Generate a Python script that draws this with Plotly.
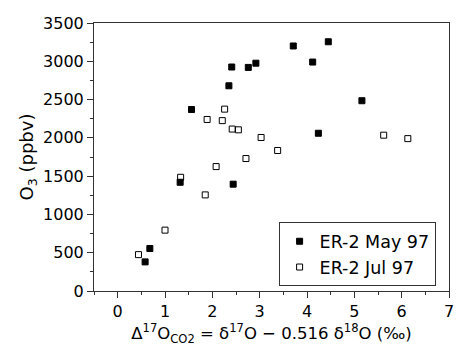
import plotly.graph_objects as go

may_x = [0.58, 0.68, 1.32, 1.56, 2.35, 2.41, 2.44, 2.76, 2.92, 3.71, 4.12, 4.24, 4.45, 5.16]
may_y = [380, 555, 1420, 2370, 2680, 2925, 1395, 2920, 2975, 3200, 2990, 2060, 3255, 2485]

jul_x = [0.44, 1.00, 1.33, 1.85, 1.89, 2.08, 2.21, 2.26, 2.42, 2.55, 2.71, 3.03, 3.38, 5.62, 6.13]
jul_y = [475, 795, 1485, 1255, 2240, 1625, 2225, 2375, 2115, 2105, 1730, 2005, 1835, 2035, 1990]

font = "DejaVu Sans, sans-serif"

fig = go.Figure()
fig.add_trace(go.Scatter(x=may_x, y=may_y, mode="markers", name="ER-2 May 97",
                         marker=dict(symbol="square", size=6, color="black",
                                     line=dict(color="black", width=1))))
fig.add_trace(go.Scatter(x=jul_x, y=jul_y, mode="markers", name="ER-2 Jul 97",
                         marker=dict(symbol="square-open", size=6, color="black",
                                     line=dict(color="black", width=1))))

axis_common = dict(showline=True, linecolor="#333", linewidth=1, mirror=True,
                   ticks="outside", ticklen=6, tickwidth=1, tickcolor="#333",
                   showgrid=False, zeroline=False, ticklabeloverflow="allow",
                   tickfont=dict(family=font, size=16, color="black"))

fig.update_xaxes(range=[-0.5, 7], tick0=0, dtick=1,
                 minor=dict(ticks="outside", ticklen=3, dtick=0.5, tick0=0, tickcolor="#333"),
                 title=dict(text="Δ<sup>17</sup>O<sub>CO2</sub> = δ<sup>17</sup>O − 0.516 δ<sup>18</sup>O (‰)",
                            font=dict(family=font, size=16.5, color="black"), standoff=5),
                 **axis_common)
fig.update_yaxes(range=[0, 3500], tick0=0, dtick=500,
                 minor=dict(ticks="outside", ticklen=3, dtick=250, tick0=0, tickcolor="#333"),
                 title=dict(text="O<sub>3</sub> (ppbv)",
                            font=dict(family=font, size=18, color="black"), standoff=4),
                 **axis_common)

fig.update_layout(
    width=456, height=352,
    margin=dict(l=94, r=2, t=23, b=61),
    paper_bgcolor="white", plot_bgcolor="white",
    showlegend=True,
    legend=dict(x=0.52, y=0.256, xanchor="left", yanchor="top",
                bgcolor="white", bordercolor="#333", borderwidth=1,
                font=dict(family=font, size=17.5, color="black"),
                itemwidth=30, tracegroupgap=0),
)

fig.write_html("out.html")
